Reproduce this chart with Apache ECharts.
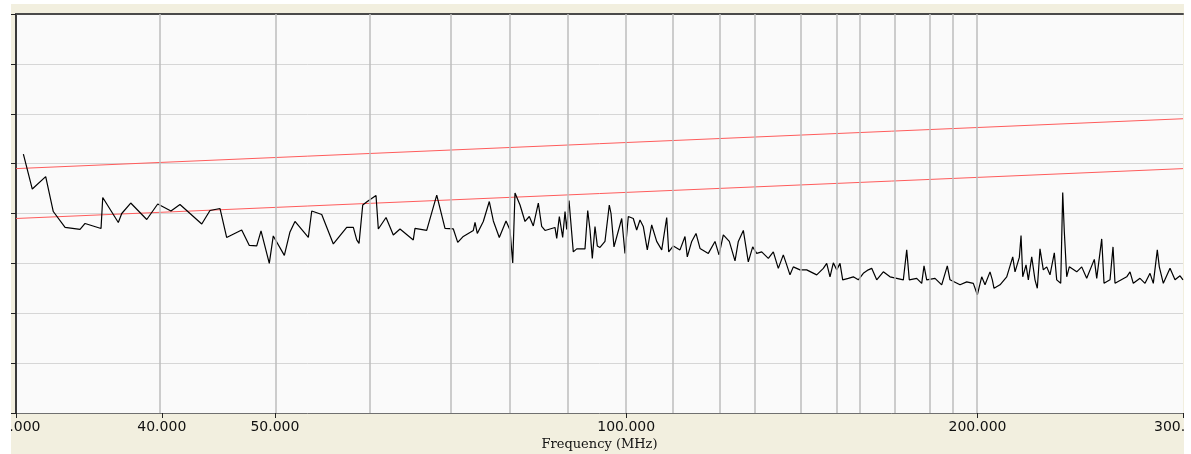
<!DOCTYPE html>
<html><head><meta charset="utf-8">
<script src="https://cdn.jsdelivr.net/npm/echarts@6/dist/echarts.min.js"></script>
<style>html,body{margin:0;padding:0;background:#fff}#c{width:1191px;height:454px}</style>
</head><body><div id="c"></div>
<script>
const freqMHz = [30.44,30.98,31.81,32.29,33.05,34.04,34.38,35.48,35.60,36.71,36.96,37.62,38.83,39.68,40.73,41.46,42.29,43.28,43.99,44.87,45.46,46.83,47.54,48.24,48.65,49.45,49.84,50.94,51.51,52.02,
53.41,53.77,54.84,56.11,57.61,58.37,58.76,59.03,59.46,60.00,61.04,61.32,62.26,63.16,64.00,65.70,65.92,67.46,68.81,69.94,71.10,71.72,72.51,73.96,74.21,74.54,75.43,76.33,76.94,77.85,78.89,79.51,79.94,80.30,81.10,81.90,82.60,83.25,84.08,84.64,85.20,86.89,87.19,87.64,88.22,88.63,88.92,89.33,
90.09,90.70,92.19,92.69,93.11,93.53,94.03,94.46,94.96,95.90,96.72,97.05,97.62,99.12,99.76,100.42,101.41,102.09,102.76,103.43,104.25,105.16,106.20,107.26,108.32,108.75,109.74,111.20,112.30,112.81,113.80,114.77,115.68,117.59,119.15,120.10,121.12,122.56,123.95,124.76,126.00,127.24,128.35,129.37,130.65,132.37,133.68,135.00,136.34,137.26,138.15,139.06,140.91,142.78,145.63,147.54,148.53,149.50,150.48,151.49,152.48,153.29,155.00,156.53,158.09,159.65,161.24,
162.32,163.93,166.08,168.29,170.53,172.77,173.93,174.82,177.39,179.15,179.97,180.93,183.92,186.36,188.43,189.44,193.22,195.79,198.36,199.93,201.67,202.99,205.00,205.94,206.63,209.09,211.87,214.40,215.37,217.21,217.94,218.67,220.10,221.10,222.58,224.03,225.05,226.25,227.73,229.26,230.76,232.73,233.83,235.69,236.15,236.62,237.36,238.49,239.72,243.25,245.65,248.09,251.84,253.04,255.55,256.71,259.76,261.31,262.34,268.47,270.22,271.98,275.60,278.34,281.10,282.93,285.17,286.30,288.57,292.41,295.31,298.24,300.00];
const levelDb = [51.9,44.9,47.4,40.4,37.2,36.8,38.0,37.0,43.2,38.2,40.0,42.1,38.8,41.9,40.5,41.8,40.0,37.9,40.6,41.0,35.2,36.7,33.6,33.5,36.5,30.0,35.5,31.6,36.3,38.4,
35.2,40.5,39.8,33.9,37.2,37.2,34.7,34.0,41.7,42.4,43.6,36.9,39.2,35.7,36.9,34.7,37.0,36.6,43.7,37.0,36.9,34.2,35.4,36.6,38.2,36.0,38.4,42.4,38.5,35.2,38.5,36.7,30.1,44.1,41.7,38.4,39.4,37.5,42.1,37.4,36.6,37.2,35.0,39.4,35.2,40.4,36.8,42.6,
32.3,32.9,32.9,40.6,36.7,31.0,37.4,33.5,33.2,34.4,41.7,40.0,33.3,39.0,32.0,39.4,39.0,36.7,38.7,37.4,32.7,37.7,34.4,32.7,39.2,32.3,33.5,32.7,35.4,31.3,34.4,36.0,33.0,32.0,34.4,31.7,35.7,34.4,30.5,34.4,36.6,30.3,33.3,32.0,32.3,31.0,32.3,29.0,31.7,29.7,27.7,29.3,28.7,28.7,27.7,29.0,30.0,27.3,30.1,28.7,30.0,26.7,27.0,27.3,26.7,28.0,28.7,
29.0,26.7,28.3,27.3,27.0,26.7,32.7,26.7,27.0,26.0,29.5,26.7,27.0,25.7,29.5,26.7,25.7,26.3,26.0,23.7,27.3,25.7,28.3,26.7,25.0,25.7,27.3,31.3,28.3,31.2,35.6,27.3,29.7,26.7,31.3,26.7,25.0,32.9,28.7,29.3,27.7,32.1,26.7,26.0,35.0,44.2,36.4,27.3,29.3,28.3,29.3,27.0,30.8,27.0,34.9,26.0,26.7,33.3,26.0,27.3,28.3,26.0,27.0,26.0,28.0,26.0,32.7,29.3,26.0,29.0,26.7,27.5,26.7];
const tickFreqs = [30, 40, 50, 100, 200, 300];
const gridFreqs = [40, 50, 60, 70, 80, 90, 100, 110, 120, 130, 140, 150, 160, 170, 180, 190, 200];
const limitFreqs = [30, 300];
const limitUpper = [49, 59];
const limitLower = [39, 49];
const levelMin = 0, levelMax = 80, levelStep = 10;
const axisName = 'Frequency (MHz)';

const lg = Math.log10;
const xMin = lg(30), xMax = lg(300);
const chart = echarts.init(document.getElementById('c'), null, {renderer: 'canvas'});
chart.setOption({
  animation: false,
  backgroundColor: '#F2EFDF',
  grid: {left: 16, right: 8, top: 14, bottom: 41, containLabel: false, outerBoundsMode: 'none',
    show: true, backgroundColor: '#FAFAFA', borderWidth: 0},
  xAxis: [{
    type: 'value', min: xMin, max: xMax,
    name: axisName, nameLocation: 'middle', nameGap: 25, nameMoveOverlap: false,
    nameTextStyle: {fontFamily: 'DejaVu Serif', fontSize: 13, color: '#111'},
    axisLine: {lineStyle: {color: '#707070', width: 1}},
    axisTick: {show: true, length: 5, lineStyle: {color: '#222'}, customValues: tickFreqs.map(lg)},
    axisLabel: {customValues: tickFreqs.map(lg), margin: 7, fontFamily: 'DejaVu Sans', fontSize: 14, color: '#111',
      hideOverlap: false, formatter: v => Math.pow(10, v).toFixed(3)},
    splitLine: {show: false}
  }, {
    type: 'value', position: 'top', min: xMin, max: xMax,
    axisLine: {show: true, lineStyle: {color: '#4a4a4a', width: 2}},
    axisTick: {show: false}, axisLabel: {show: false}, splitLine: {show: false}
  }],
  yAxis: {
    type: 'value', min: levelMin, max: levelMax, interval: levelStep,
    axisLine: {show: true, lineStyle: {color: '#3a3a3a', width: 2}},
    axisTick: {show: true, length: 5, lineStyle: {color: '#222'}},
    axisLabel: {show: false},
    splitLine: {show: true, lineStyle: {color: '#d6d6d6', width: 1}}
  },
  graphic: [
    {type: 'rect', left: 0, top: 0, shape: {width: 11, height: 454}, style: {fill: '#fff'}, z: 100, silent: true},
    {type: 'rect', left: 0, top: 0, shape: {width: 1191, height: 4}, style: {fill: '#fff'}, z: 100, silent: true},
    {type: 'rect', left: 1184, top: 0, shape: {width: 7, height: 454}, style: {fill: '#fff'}, z: 100, silent: true}
  ],
  series: [
    {type: 'line', data: [], z: 1, silent: true,
      markLine: {silent: true, symbol: 'none', label: {show: false},
        lineStyle: {type: 'solid', color: '#bcbcbc', width: 1.5},
        data: gridFreqs.map(f => ({xAxis: lg(f)}))}},
    {type: 'line', z: 2, symbol: 'none', silent: true, lineStyle: {color: '#ff5c5c', width: 1},
      data: limitFreqs.map((f, i) => [lg(f), limitUpper[i]])},
    {type: 'line', z: 2, symbol: 'none', silent: true, lineStyle: {color: '#ff5c5c', width: 1},
      data: limitFreqs.map((f, i) => [lg(f), limitLower[i]])},
    {type: 'line', z: 3, symbol: 'none', silent: true, lineStyle: {color: '#000', width: 1.2},
      data: freqMHz.map((f, i) => [lg(f), levelDb[i]])}
  ]
});
</script></body></html>
